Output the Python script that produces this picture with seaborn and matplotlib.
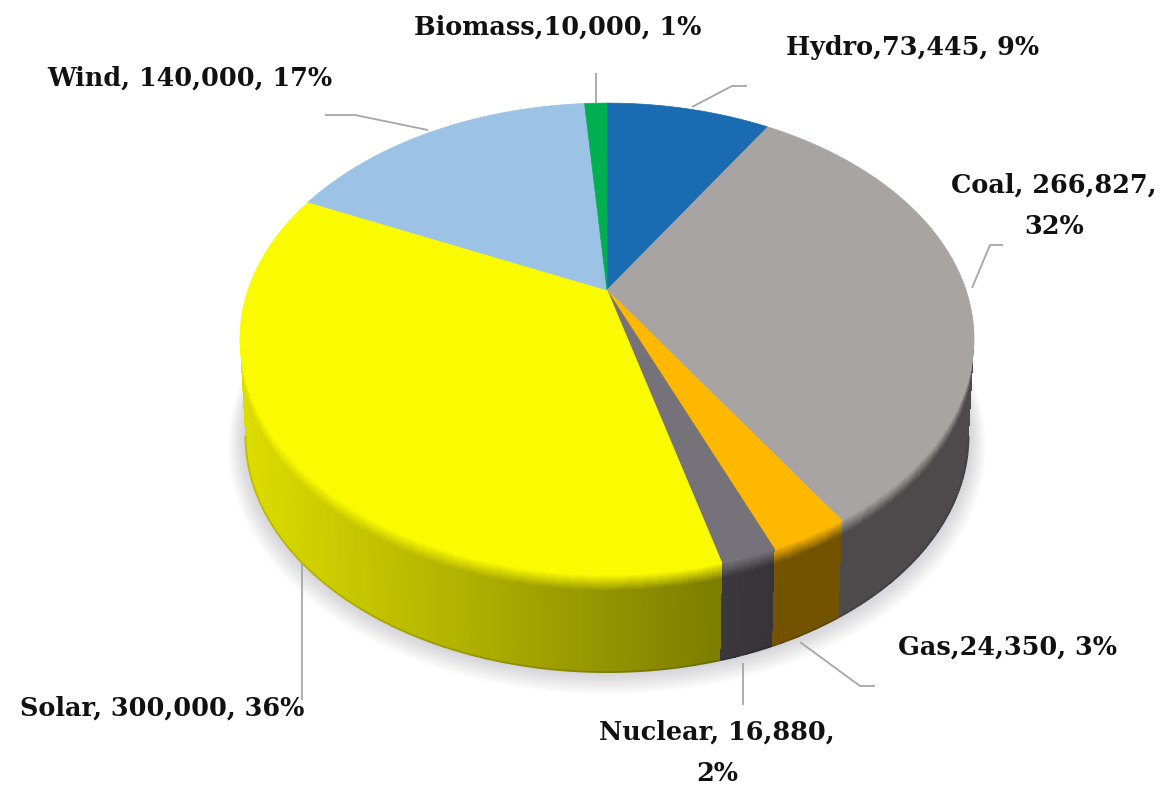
import numpy as np
import matplotlib
matplotlib.use("Agg")
import matplotlib.pyplot as plt
from matplotlib.collections import LineCollection
import seaborn as sns

# Data, clockwise from 12 o'clock
sources = ["Hydro", "Coal", "Gas", "Nuclear", "Solar", "Wind", "Biomass"]
values = [73445, 266827, 24350, 16880, 300000, 140000, 10000]
labels = ["Hydro,73,445, 9%", "Coal, 266,827,\n32%", "Gas,24,350, 3%",
          "Nuclear, 16,880,\n2%", "Solar, 300,000, 36%",
          "Wind, 140,000, 17%", "Biomass,10,000, 1%"]
slice_colors = ["#1a6cb2", "#a8a4a4", "#ffb800", "#76727a", "#fafa00", "#9cc2e6", "#00b050"]

# Layout and style
label_pos = [(913, 47), (1054, 206), (1008, 647), (717, 753), (162, 708), (190, 78), (558, 27)]
leaders = [[(692, 107), (732, 86), (747, 86)],
           [(972, 288), (990, 245), (1003, 245)],
           [(800, 642), (860, 686), (875, 686)],
           [(743, 663), (743, 705)],
           [(302, 563), (302, 700)],
           [(428, 130), (355, 115), (325, 115)],
           [(596, 103), (596, 73)]]
CX, CY, A, B, K = 607, 290, 359, 225.8, 0.208
DEPTH, SHRINK = 97, 0.985

sns.set_theme(style="white")
palette = sns.color_palette(slice_colors)

fig = plt.figure(figsize=(11.64, 7.89), dpi=100, facecolor="white")
ax = fig.add_axes([0, 0, 1, 1])
ax.set_xlim(0, 1164)
ax.set_ylim(789, 0)
ax.axis("off")


def rim(theta):
    s, c = np.sin(theta), np.cos(theta)
    w = 1 + K * c
    return CX + A * s / w, CY - B * c / w


def lower(x, y):
    return CX + (x - CX) * SHRINK, y + DEPTH


fracs = np.array(values, dtype=float) / np.sum(values)
edges = 2 * np.pi * np.concatenate([[0], np.cumsum(fracs)])

# soft shadow under the pie
full = np.linspace(0, 2 * np.pi, 361)
fx, fy = lower(*rim(full))
ey = fy.mean()
for i in range(22, 0, -1):
    g = 1 + i * 0.0022
    ax.fill(CX + (fx - CX) * g, ey + (fy - ey) * g + i * 0.45, color="#8a8aa6",
            alpha=0.016, lw=0, zorder=1)

# side wall: only the part of the rim that faces the viewer
front_lo, front_hi = np.arccos(-K), 2 * np.pi - np.arccos(-K)
ts = np.concatenate([np.linspace(0, 0.16, 17), np.linspace(0.2, 1, 21)])
for k in range(len(values)):
    lo, hi = max(edges[k], front_lo), min(edges[k + 1], front_hi)
    if hi <= lo:
        continue
    th = np.linspace(lo, hi, max(3, int((hi - lo) * 90)))
    x, y = rim(th)
    lx, ly = lower(x, y)
    T = ts[:, None]
    X = x + (lx - x) * T
    Y = y + (ly - y) * T
    base = np.array(palette[k])
    xm = 0.5 * (x[:-1] + x[1:])
    f = np.clip(0.88 - 0.38 * (xm - 245) / 475, 0.45, 0.88)
    tm = 0.5 * (ts[:-1] + ts[1:])
    blend = np.clip(tm / 0.16, 0, 1)[:, None]
    shade = 1 + (f[None, :] - 1) * blend
    C = np.clip(shade[:, :, None] * base, 0, 1)
    ax.pcolormesh(X, Y, C, shading="flat", antialiased=False, lw=0, zorder=2)
    segs = np.stack([np.c_[lx[:-1], ly[:-1]], np.c_[lx[1:], ly[1:]]], axis=1)
    ax.add_collection(LineCollection(segs, colors=np.clip(f[:, None] * 0.85 * base, 0, 1),
                                     linewidths=1.3, zorder=2.5))
    if k == len(values) - 3:
        pass

# top face
for k in range(len(values)):
    th = np.linspace(edges[k], edges[k + 1], max(3, int(fracs[k] * 500)))
    x, y = rim(th)
    ax.fill(np.r_[CX, x], np.r_[CY, y], color=palette[k], lw=0.5, zorder=3)

# leader lines and labels
for pts in leaders:
    p = np.array(pts)
    ax.plot(p[:, 0], p[:, 1], color="#a6a6a6", lw=1.3, zorder=4, solid_capstyle="butt")
for lab, (lx, ly) in zip(labels, label_pos):
    ax.text(lx, ly, lab, ha="center", va="center", family="DejaVu Serif",
            weight="bold", fontsize=18.4, color="#111111", linespacing=1.8, zorder=5)

fig.savefig("out.png", dpi=100, facecolor="white")
